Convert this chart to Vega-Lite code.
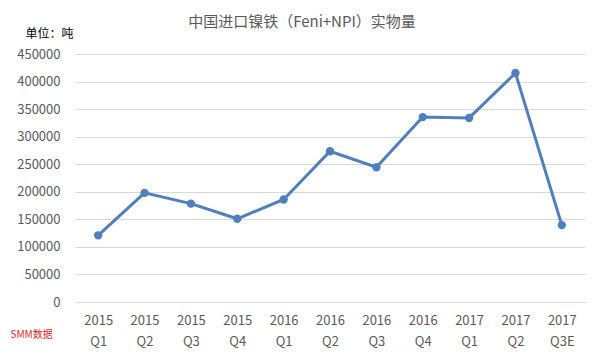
{
  "$schema": "https://vega.github.io/schema/vega-lite/v6.json",
  "width": 510,
  "height": 248,
  "autosize": {"type": "none"},
  "padding": {"left": 75, "top": 54, "right": 21, "bottom": 61},
  "background": "white",
  "config": {
    "view": {"stroke": null},
    "font": "Noto Sans CJK SC"
  },
  "title": {
    "text": "中国进口镍铁（Feni+NPI）实物量",
    "fontSize": 15,
    "fontWeight": "normal",
    "color": "#595959",
    "anchor": "middle",
    "dx": -28,
    "offset": -3,
    "font": "Noto Sans CJK SC"
  },
  "data": {
    "values": [
      {"quarter": "2015 Q1", "value": 121000},
      {"quarter": "2015 Q2", "value": 198000},
      {"quarter": "2015 Q3", "value": 178500},
      {"quarter": "2015 Q4", "value": 151000},
      {"quarter": "2016 Q1", "value": 186000},
      {"quarter": "2016 Q2", "value": 273500},
      {"quarter": "2016 Q3", "value": 244500},
      {"quarter": "2016 Q4", "value": 335500},
      {"quarter": "2017 Q1", "value": 334000},
      {"quarter": "2017 Q2", "value": 415500},
      {"quarter": "2017 Q3E", "value": 139500}
    ]
  },
  "encoding": {
    "x": {
      "field": "quarter",
      "type": "ordinal",
      "sort": null,
      "scale": {"paddingInner": 0, "paddingOuter": 0},
      "axis": {
        "title": "SMM数据",
        "titleColor": "#d9272e",
        "titleFontSize": 10,
        "titleFontWeight": "normal",
        "titleX": -65,
        "titleY": 32,
        "titleAlign": "left",
        "titleBaseline": "middle",
        "labelAngle": 0,
        "labelExpr": "split(datum.label, ' ')",
        "labelFontSize": 13,
        "labelColor": "#595959",
        "labelLineHeight": 21,
        "labelPadding": 12,
        "labelBaseline": "top",
        "ticks": false,
        "domain": true,
        "domainColor": "#d9d9d9",
        "grid": false
      }
    },
    "y": {
      "field": "value",
      "type": "quantitative",
      "scale": {"domain": [0, 450000], "nice": false},
      "axis": {
        "values": [0, 50000, 100000, 150000, 200000, 250000, 300000, 350000, 400000, 450000],
        "format": "d",
        "title": "单位：吨",
        "titleAngle": 0,
        "titleX": -50,
        "titleY": -21,
        "titleAlign": "left",
        "titleBaseline": "middle",
        "titleFontSize": 12,
        "titleFontWeight": "normal",
        "titleColor": "#000000",
        "labelFontSize": 13,
        "labelColor": "#595959",
        "labelPadding": 15,
        "ticks": false,
        "domain": false,
        "grid": true,
        "gridColor": "#d9d9d9",
        "gridWidth": 1
      }
    }
  },
  "layer": [
    {"mark": {"type": "line", "color": "#4f7fbc", "strokeWidth": 3}},
    {"mark": {"type": "point", "filled": true, "color": "#4f7fbc", "size": 70, "opacity": 1}}
  ]
}
